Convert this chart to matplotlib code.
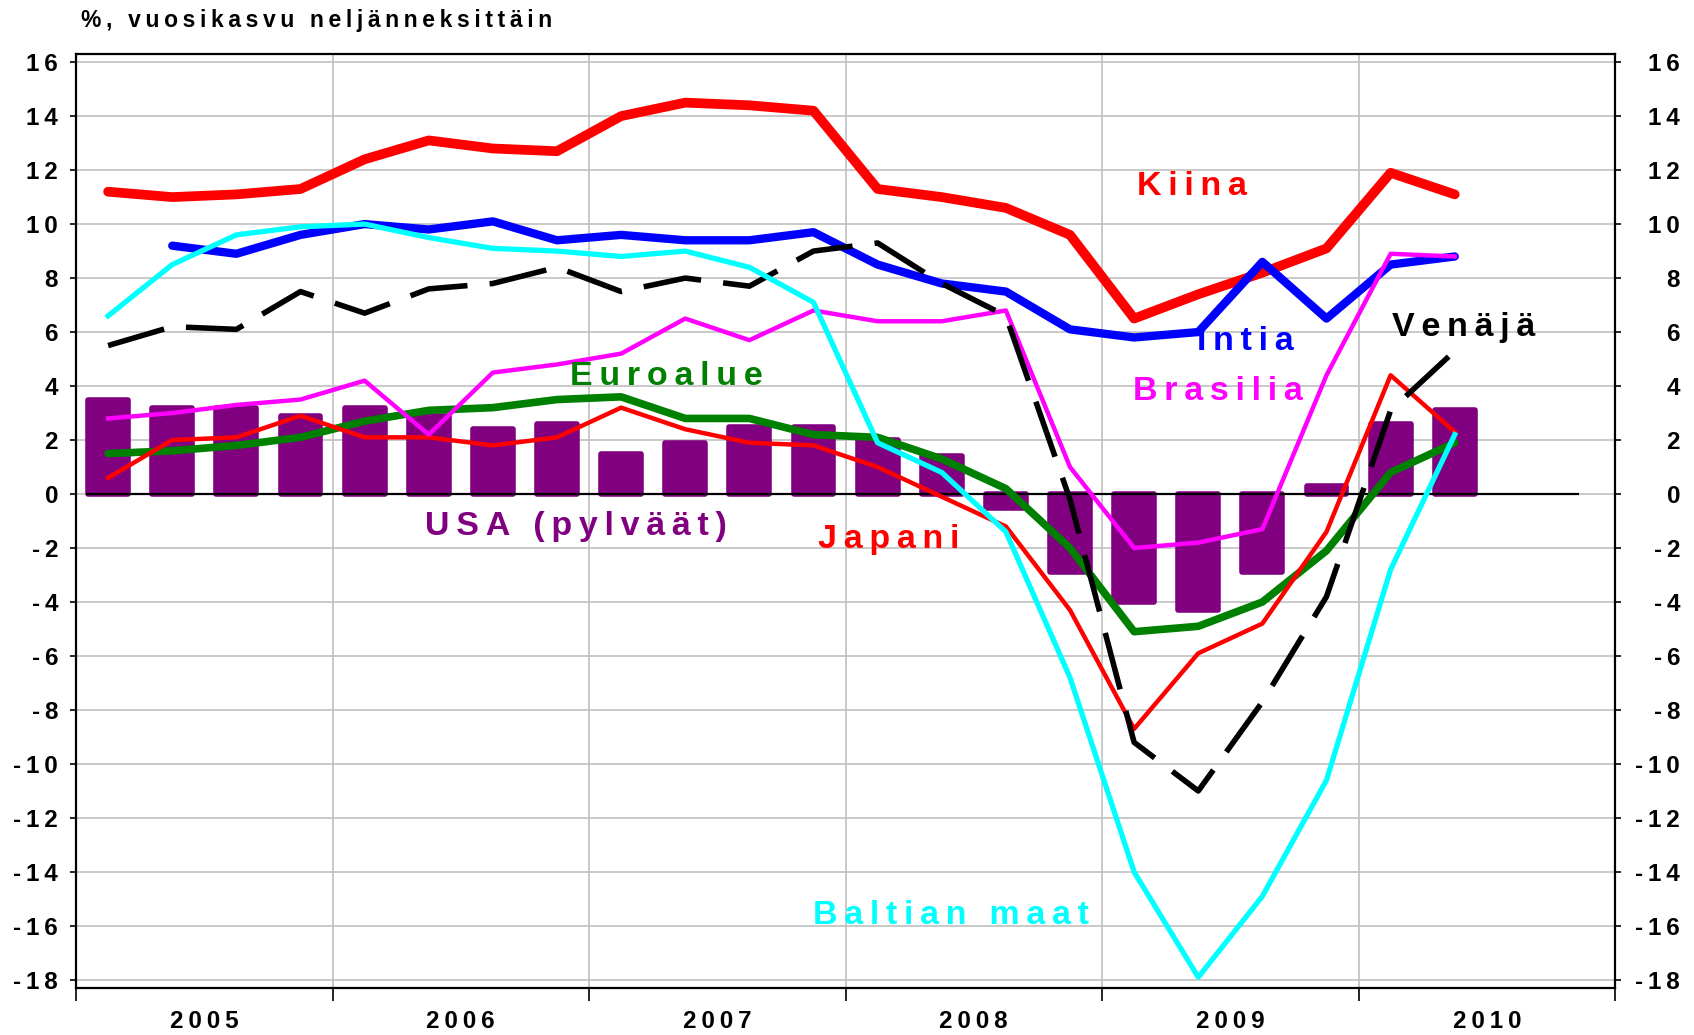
import numpy as np
import matplotlib
matplotlib.use("Agg")
import matplotlib.pyplot as plt
from matplotlib.transforms import ScaledTranslation

plt.rcParams["font.family"] = ["Liberation Sans", "DejaVu Sans"]
plt.rcParams["font.weight"] = "bold"

# neljännekset 2005Q1 - 2010Q2
quarters = np.arange(2005.125, 2010.5, 0.25)

usa = [3.5, 3.2, 3.2, 2.9, 3.2, 2.9, 2.4, 2.6, 1.5, 1.9, 2.5, 2.5,
       2.0, 1.4, -0.5, -2.9, -4.0, -4.3, -2.9, 0.3, 2.6, 3.1]
kiina = [11.2, 11.0, 11.1, 11.3, 12.4, 13.1, 12.8, 12.7, 14.0, 14.5, 14.4, 14.2,
         11.3, 11.0, 10.6, 9.6, 6.5, 7.4, 8.2, 9.1, 11.9, 11.1]
intia = [np.nan, 9.2, 8.9, 9.6, 10.0, 9.8, 10.1, 9.4, 9.6, 9.4, 9.4, 9.7,
         8.5, 7.8, 7.5, 6.1, 5.8, 6.0, 8.6, 6.5, 8.5, 8.8]
baltia = [6.6, 8.5, 9.6, 9.9, 10.0, 9.5, 9.1, 9.0, 8.8, 9.0, 8.4, 7.1,
          1.9, 0.8, -1.4, -6.8, -14.0, -17.9, -14.9, -10.6, -2.8, 2.2]
venaja = [5.5, 6.2, 6.1, 7.5, 6.7, 7.6, 7.8, 8.4, 7.5, 8.0, 7.7, 9.0,
          9.3, 7.8, 6.6, -0.2, -9.2, -11.0, -7.7, -3.8, 3.1, 5.3]
brasilia = [2.8, 3.0, 3.3, 3.5, 4.2, 2.2, 4.5, 4.8, 5.2, 6.5, 5.7, 6.8,
            6.4, 6.4, 6.8, 1.0, -2.0, -1.8, -1.3, 4.4, 8.9, 8.8]
euroalue = [1.5, 1.6, 1.8, 2.1, 2.7, 3.1, 3.2, 3.5, 3.6, 2.8, 2.8, 2.2,
            2.1, 1.3, 0.2, -2.0, -5.1, -4.9, -4.0, -2.1, 0.8, 1.9]
japani = [0.6, 2.0, 2.1, 2.9, 2.1, 2.1, 1.8, 2.1, 3.2, 2.4, 1.9, 1.8,
          1.0, -0.1, -1.2, -4.3, -8.7, -5.9, -4.8, -1.4, 4.4, 2.3]

years = ["2005", "2006", "2007", "2008", "2009", "2010"]
yticks = list(range(-18, 17, 2))


def spaced(s, gap="\u2009"):
    # harvennettu teksti kuten alkuperäisessä kuvassa
    return gap.join(s)


fig = plt.figure(figsize=(16.94, 10.35), dpi=100)
ax = fig.add_axes([0.0449, 0.0454, 0.9085, 0.9024])

ax.bar(quarters, usa, width=0.155, color="#800080", edgecolor="#800080",
       linewidth=4, joinstyle="round", zorder=2)
ax.hlines(0, 2005.04, 2010.86, color="black", linewidth=1.6, zorder=3)

ax.plot(quarters, kiina, color="#ff0000", linewidth=7, solid_capstyle="round", zorder=4)
ax.plot(quarters, intia, color="#0000ff", linewidth=6, solid_capstyle="round", zorder=5)
ax.plot(quarters, euroalue, color="#008000", linewidth=5.5, solid_capstyle="round", zorder=5)
ax.plot(quarters, japani, color="#ff0000", linewidth=3.2, zorder=6)
ax.plot(quarters, brasilia, color="#ff00ff", linewidth=3.2, zorder=6)
ax.plot(quarters, venaja, color="black", linewidth=4, dashes=(10.5, 4),
        dash_capstyle="butt", zorder=7)
ax.plot(quarters, baltia, color="#00ffff", linewidth=3.8, zorder=7)

ax.set_xlim(2005, 2011)
ax.set_ylim(-18.3, 16.3)

ax.set_xticks(range(2005, 2012))
ax.set_xticklabels([])
ax.set_xticks([int(y) + 0.5 for y in years], minor=True)
ax.set_xticklabels([spaced(y) for y in years], minor=True, fontsize=17.5)
ax.tick_params(axis="x", which="major", length=9, width=1.2, direction="out")
ax.tick_params(axis="x", which="minor", length=0, pad=16)

ax.set_yticks(yticks)
ax.set_yticklabels([spaced(str(v)) for v in yticks], fontsize=17.5)
ax.tick_params(axis="y", which="major", length=4, width=1.2, direction="out",
               left=True, right=True, labelleft=True, labelright=True, pad=9)

ax.grid(axis="y", color="#c0c0c0", linewidth=1.2, zorder=0)
ax.grid(axis="x", which="major", color="#c0c0c0", linewidth=1.2, zorder=0)
ax.set_axisbelow(True)
for s in ax.spines.values():
    s.set_linewidth(1.6)

lab = dict(fontsize=24.5, fontweight="bold", ha="center", va="center", zorder=10)
ax.text(2009.35, 11.4, spaced("Kiina"), color="#ff0000", **lab)
ax.text(2009.56, 5.65, spaced("Intia"), color="#0000ff", **lab)
ax.text(2009.45, 3.8, spaced("Brasilia"), color="#ff00ff", **lab)
ax.text(2010.41, 6.17, spaced("Venäjä"), color="black", **lab)
ax.text(2007.30, 4.37, spaced("Euroalue"), color="#008000", **lab)
ax.text(2006.95, -1.19, spaced("USA (pylväät)"), color="#800080", **lab)
ax.text(2008.17, -1.67, spaced("Japani"), color="#ff0000", **lab)
ax.text(2008.41, -15.63, spaced("Baltian maat"), color="#00ffff", **lab)

fig.text(81 / 1694, 1 - 20 / 1035, spaced("%, vuosikasvu neljänneksittäin"),
         fontsize=16.5, fontweight="bold", ha="left", va="center")

# oikean puolen akselin numerot tasataan oikealle
off = ScaledTranslation(65 / 100, 0, fig.dpi_scale_trans)
for t in ax.yaxis.get_major_ticks():
    t.label2.set_horizontalalignment("right")
    t.label2.set_transform(ax.get_yaxis_transform(which="tick2") + off)

fig.savefig("out.png", dpi=100)
